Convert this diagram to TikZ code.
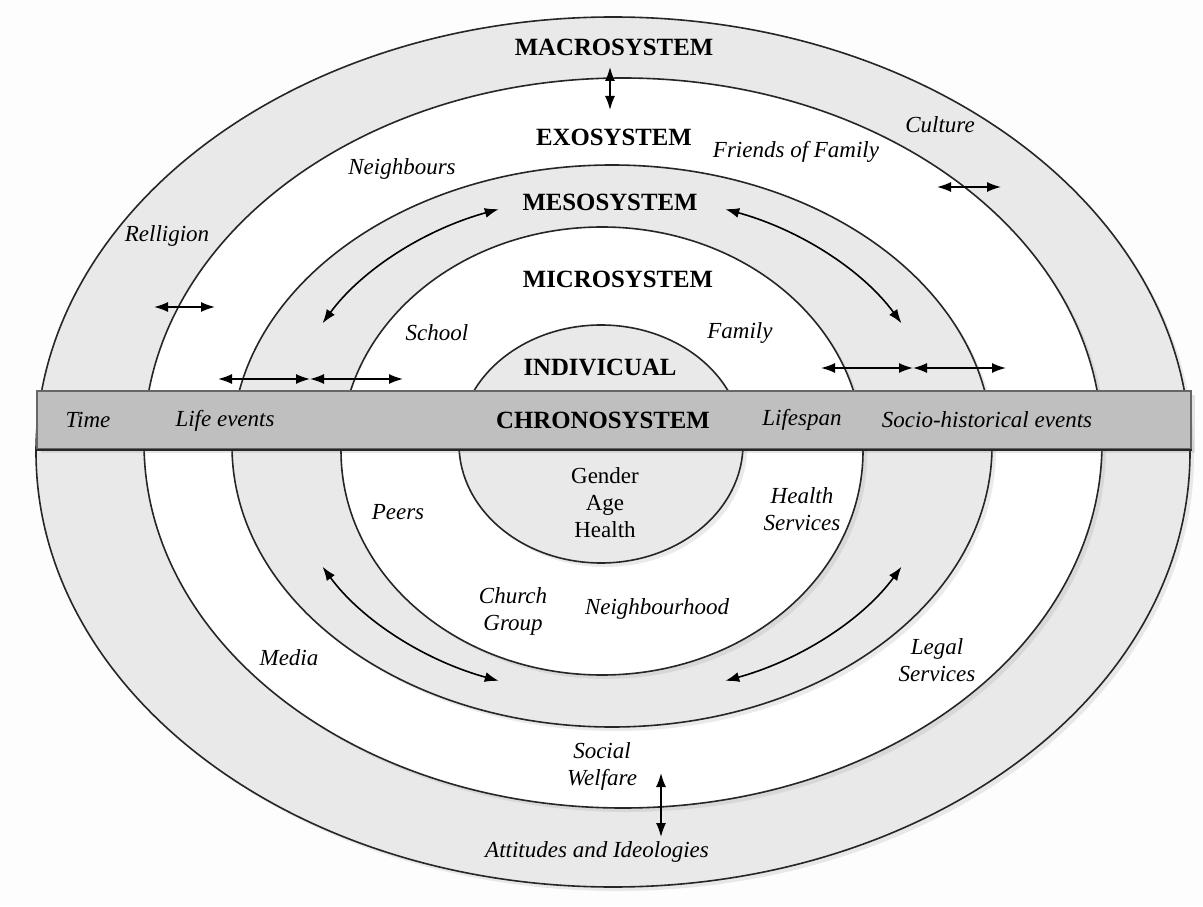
\documentclass[tikz,border=0pt]{standalone}
\usepackage{fontspec}
\setmainfont{Liberation Serif}
\usetikzlibrary{arrows.meta,shadows,positioning}
\definecolor{ringgray}{RGB}{233,233,233}
\definecolor{bargray}{RGB}{191,191,191}
\definecolor{paper}{RGB}{253,253,253}

\begin{document}
\begin{tikzpicture}[x=0.5pt,y=0.5pt,>={Latex[length=7pt,width=5pt]}]
\tikzstyle{every path}=[line width=0.8pt];
\tikzstyle{ring}=[draw=black!85,drop shadow={shadow xshift=2pt,shadow yshift=-2pt,opacity=.16}];
\tikzstyle{sys}=[font=\fontsize{12.4}{14}\selectfont\bfseries];
\tikzstyle{lbl}=[font=\fontsize{11.5}{13.5}\selectfont\itshape,align=center];
\tikzstyle{plain}=[font=\fontsize{11.5}{13.5}\selectfont,align=center];

\fill[paper] (0,0) rectangle (1203,906);

% rings, outside in
\coordinate (macroc) at (613,454);
\coordinate (exoc) at (623,463);
\coordinate (mesoc) at (612,460);
\coordinate (microc) at (602,455);
\coordinate (indivc) at (601,462);
\filldraw[ring,fill=ringgray] (macroc) ellipse [x radius=577,y radius=435];
\filldraw[ring,fill=white] (exoc) ellipse [x radius=479,y radius=365];
\filldraw[ring,fill=ringgray] (mesoc) ellipse [x radius=380,y radius=281];
\filldraw[ring,fill=white] (microc) ellipse [x radius=261,y radius=224];
\filldraw[ring,fill=ringgray] (indivc) ellipse [x radius=142,y radius=119];

% time bar
\node[draw=black!60,fill=bargray,minimum width=577pt,minimum height=29pt,inner sep=0pt,
  drop shadow={shadow xshift=2pt,shadow yshift=-2pt,opacity=.2}] (chrono) at (614,486) {};
\draw[black!85,line width=1.2pt] (chrono.south west) -- (chrono.south east);

\node[sys] (macro) at (614,859) {MACROSYSTEM};
\node[sys] (exo) at (614,769) {EXOSYSTEM};
\node[sys] (meso) at (610,704) {MESOSYSTEM};
\node[sys] (micro) at (618,627) {MICROSYSTEM};
\node[sys] (indiv) at (600,539) {INDIVICUAL};
\node[sys] (chrononame) at (603,486) {CHRONOSYSTEM};
\node[plain] (traits) at (605,403) {Gender\\Age\\Health};

\node[lbl] (time) at (88,486) {Time};
\node[lbl] (life) at (225,485) {Life events};
\node[lbl] (lifespan) at (802,486) {Lifespan};
\node[lbl] (socio) at (987,486) {Socio-historical events};
\node[lbl] (neighbours) at (402,737) {Neighbours};
\node[lbl] (religion) at (167,670) {Relligion};
\node[lbl] (school) at (437,573) {School};
\node[lbl] (family) at (740,573) {Family};
\node[lbl] (friends) at (796,754) {Friends of Family};
\node[lbl] (culture) at (940,781) {Culture};
\node[lbl] (peers) at (398,394) {Peers};
\node[lbl] (health) at (802,397) {Health\\Services};
\node[lbl] (church) at (513,295) {Church\\Group};
\node[lbl] (hood) at (657,297) {Neighbourhood};
\node[lbl] (media) at (289,248) {Media};
\node[lbl] (legal) at (937,246) {Legal\\Services};
\node[lbl] (welfare) at (602,140) {Social\\Welfare};
\node[lbl] (ideas) at (597,54) {Attitudes and Ideologies};

% straight arrows
\coordinate (macroA) at (610,839);
\coordinate (macroB) at (610,796);
\coordinate (cultA) at (937,719);
\coordinate (cultB) at (1001,719);
\coordinate (relA) at (154,599);
\coordinate (relB) at (215,599);
\coordinate (leftA) at (218,527);
\coordinate (leftB) at (310,527);
\coordinate (leftC) at (403,527);
\coordinate (rightA) at (821,538);
\coordinate (rightB) at (913,538);
\coordinate (rightC) at (1006,538);
\coordinate (welfA) at (661,133);
\coordinate (welfB) at (661,69);
\path[<->] (macroA) edge (macroB);
\path[<->] (cultA) edge (cultB);
\path[<->] (relA) edge (relB);
\path[<->] (leftA) edge (leftB);
\path[<->] (leftB) edge (leftC);
\path[<->] (rightA) edge (rightB);
\path[<->] (rightB) edge (rightC);
\path[<->] (welfA) edge (welfB);

% curved arrows in the meso ring
\coordinate (hub) at (612,461);
\path (hub) ++(110:331 and 251) coordinate (upleft);
\path (hub) ++(70:331 and 251) coordinate (upright);
\path (hub) ++(209:331 and 251) coordinate (lowleft);
\path (hub) ++(331:331 and 251) coordinate (lowright);
\draw[<->] (upleft) arc[start angle=110,end angle=151,x radius=331,y radius=251];
\draw[<->] (upright) arc[start angle=70,end angle=29,x radius=331,y radius=251];
\draw[<->] (lowleft) arc[start angle=209,end angle=250,x radius=331,y radius=251];
\draw[<->] (lowright) arc[start angle=331,end angle=290,x radius=331,y radius=251];
\end{tikzpicture}
\end{document}
